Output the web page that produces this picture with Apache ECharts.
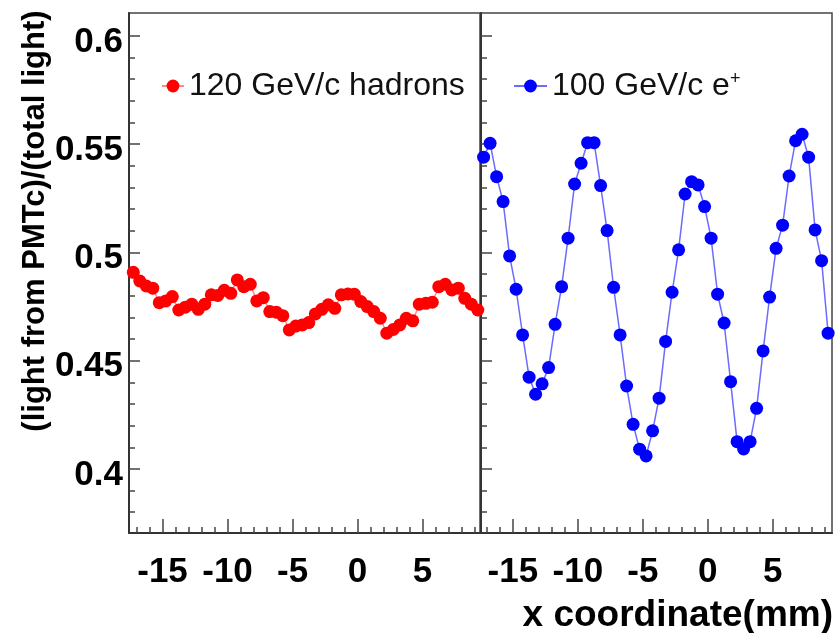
<!DOCTYPE html>
<html>
<head>
<meta charset="utf-8">
<script src="https://cdn.jsdelivr.net/npm/echarts@6/dist/echarts.min.js"></script>
<style>
  html, body { margin: 0; padding: 0; background: #fff; }
  #chart { width: 836px; height: 633px; }
</style>
</head>
<body>
<div id="chart"></div>
<script>
// Scan positions across the module (mm), shared by both scans
const xPositions = [
  -17.25, -16.75, -16.25, -15.75, -15.25, -14.75, -14.25, -13.75, -13.25, -12.75,
  -12.25, -11.75, -11.25, -10.75, -10.25, -9.75, -9.25, -8.75, -8.25, -7.75,
  -7.25, -6.75, -6.25, -5.75, -5.25, -4.75, -4.25, -3.75, -3.25, -2.75,
  -2.25, -1.75, -1.25, -0.75, -0.25, 0.25, 0.75, 1.25, 1.75, 2.25,
  2.75, 3.25, 3.75, 4.25, 4.75, 5.25, 5.75, 6.25, 6.75, 7.25,
  7.75, 8.25, 8.75, 9.25
];

// Fraction of light seen by PMTc, 120 GeV/c hadron beam
const hadronRatio = [
  0.4908, 0.4868, 0.4845, 0.4835, 0.4768, 0.4776, 0.4796, 0.4734, 0.4747, 0.4761,
  0.4737, 0.4761, 0.4804, 0.4801, 0.4825, 0.4811, 0.4873, 0.4842, 0.4853, 0.4776,
  0.4791, 0.4727, 0.4724, 0.4708, 0.4642, 0.4660, 0.4665, 0.4676, 0.4716, 0.4737,
  0.4758, 0.4742, 0.4804, 0.4808, 0.4807, 0.4773, 0.4750, 0.4727, 0.4696, 0.4627,
  0.4644, 0.4665, 0.4696, 0.4684, 0.4761, 0.4765, 0.4770, 0.4842, 0.4853, 0.4827,
  0.4835, 0.4788, 0.4761, 0.4734
];

// Fraction of light seen by PMTc, 100 GeV/c positron beam
const positronRatio = [
  0.5440, 0.5504, 0.5350, 0.5235, 0.4984, 0.4830, 0.4619, 0.4424, 0.4345, 0.4393,
  0.4468, 0.4668, 0.4842, 0.5066, 0.5316, 0.5412, 0.5507, 0.5507, 0.5309, 0.5101,
  0.4839, 0.4619, 0.4383, 0.4206, 0.4091, 0.4060, 0.4176, 0.4327, 0.4589, 0.4816,
  0.5012, 0.5270, 0.5327, 0.5312, 0.5212, 0.5066, 0.4807, 0.4674, 0.4403, 0.4126,
  0.4092, 0.4126, 0.4280, 0.4545, 0.4794, 0.5019, 0.5126, 0.5353, 0.5516, 0.5546,
  0.5440, 0.5104, 0.4962, 0.4627
];

const seriesNames = ['120 GeV/c hadrons', '100 GeV/c e+'];

// Tick positions
const xMajorTicks = [-15, -10, -5, 0, 5];
const xMinorTicks = [-17, -16, -14, -13, -12, -11, -9, -8, -7, -6, -4, -3, -2, -1, 1, 2, 3, 4, 6, 7, 8, 9];
const yMajorTicks = [0.4, 0.45, 0.5, 0.55, 0.6];
const yMinorTicks = [0.38, 0.39, 0.41, 0.42, 0.43, 0.44, 0.46, 0.47, 0.48, 0.49,
                     0.51, 0.52, 0.53, 0.54, 0.56, 0.57, 0.58, 0.59];

const FONT = '"Liberation Sans", Arial, Helvetica, sans-serif';
const pairs = (ys) => ys.map((y, i) => [xPositions[i], y]);

const frameColor = '#444';
const tickStyle = { color: '#444', width: 1.5 };

function xAxes(grid, min, max) {
  return [
    {
      gridIndex: grid, type: 'value', min: min, max: max, position: 'bottom',
      axisLine: { show: true, onZero: false, lineStyle: { color: '#333', width: 2 } },
      axisTick: { show: true, inside: true, length: 14, customValues: xMajorTicks, lineStyle: tickStyle },
      axisLabel: {
        show: true, customValues: xMajorTicks, margin: 22,
        fontFamily: FONT, fontSize: 35, fontWeight: 'bold', color: '#000'
      },
      splitLine: { show: false }
    },
    {
      gridIndex: grid, type: 'value', min: min, max: max, position: 'bottom',
      axisLine: { show: false, onZero: false },
      axisTick: { show: true, inside: true, length: 6, customValues: xMinorTicks, lineStyle: tickStyle },
      axisLabel: { show: false },
      splitLine: { show: false }
    }
  ];
}

function yAxes(grid, withLabels) {
  const major = {
    gridIndex: grid, type: 'value', min: 0.3704, max: 0.6106, position: 'left',
    axisLine: { show: true, onZero: false, lineStyle: { color: '#333', width: 2 } },
    axisTick: { show: true, inside: true, length: 11, customValues: yMajorTicks, lineStyle: tickStyle },
    axisLabel: {
      show: withLabels, customValues: yMajorTicks, margin: 6,
      fontFamily: FONT, fontSize: 35, fontWeight: 'bold', color: '#000',
      verticalAlign: 'top', lineHeight: 12,
      formatter: (v) => String(Number(v.toFixed(2)))
    },
    splitLine: { show: false }
  };
  if (withLabels) {
    major.name = '(light from PMTc)/(total light)';
    major.nameLocation = 'middle';
    major.nameGap = 77;
    major.nameTextStyle = {
      fontFamily: FONT, fontSize: 31, fontWeight: 'bold', color: '#000',
      padding: [0, 0, 0, 104]
    };
  }
  return [
    major,
    {
      gridIndex: grid, type: 'value', min: 0.3704, max: 0.6106, position: 'left',
      axisLine: { show: false, onZero: false },
      axisTick: { show: true, inside: true, length: 6, customValues: yMinorTicks, lineStyle: tickStyle },
      axisLabel: { show: false },
      splitLine: { show: false }
    }
  ];
}

const chart = echarts.init(document.getElementById('chart'), null, { renderer: 'canvas' });

chart.setOption({
  animation: false,
  backgroundColor: '#fff',
  title: {
    text: 'x coordinate(mm)',
    right: 3, top: 597, padding: 0,
    textStyle: { fontFamily: FONT, fontSize: 37, fontWeight: 'bold', color: '#000' }
  },
  legend: [
    {
      data: [seriesNames[0]],
      left: 161, top: 70, padding: 0,
      itemWidth: 22, itemHeight: 16,
      selectedMode: false,
      textStyle: { fontFamily: FONT, fontSize: 32, color: '#111' }
    },
    {
      data: [seriesNames[1]],
      left: 513, top: 70, padding: 0,
      itemWidth: 33, itemHeight: 16,
      selectedMode: false,
      formatter: () => '100 GeV/c e{sup|+}',
      textStyle: {
        fontFamily: FONT, fontSize: 32, color: '#111',
        rich: { sup: { fontFamily: FONT, fontSize: 18, color: '#111', verticalAlign: 'top' } }
      }
    }
  ],
  grid: [
    { left: 129, top: 13, width: 351, height: 520, show: true, borderColor: frameColor, borderWidth: 1.5, backgroundColor: 'transparent' },
    { left: 481, top: 13, width: 351, height: 520, show: true, borderColor: frameColor, borderWidth: 1.5, backgroundColor: 'transparent' }
  ],
  xAxis: [...xAxes(0, -17.58, 9.42), ...xAxes(1, -17.45, 9.55)],
  yAxis: [...yAxes(0, true), ...yAxes(1, false)],
  series: [
    {
      name: seriesNames[0], type: 'line',
      xAxisIndex: 0, yAxisIndex: 0,
      data: pairs(hadronRatio),
      symbol: 'circle', symbolSize: 13,
      itemStyle: { color: '#ff0000' },
      lineStyle: { color: '#ff8a8a', width: 1.5 },
      emphasis: { disabled: true }
    },
    {
      name: seriesNames[1], type: 'line',
      xAxisIndex: 2, yAxisIndex: 2,
      data: pairs(positronRatio),
      symbol: 'circle', symbolSize: 13,
      itemStyle: { color: '#0000ff' },
      lineStyle: { color: '#6b6bff', width: 1.5 },
      emphasis: { disabled: true }
    }
  ]
});
</script>
</body>
</html>
